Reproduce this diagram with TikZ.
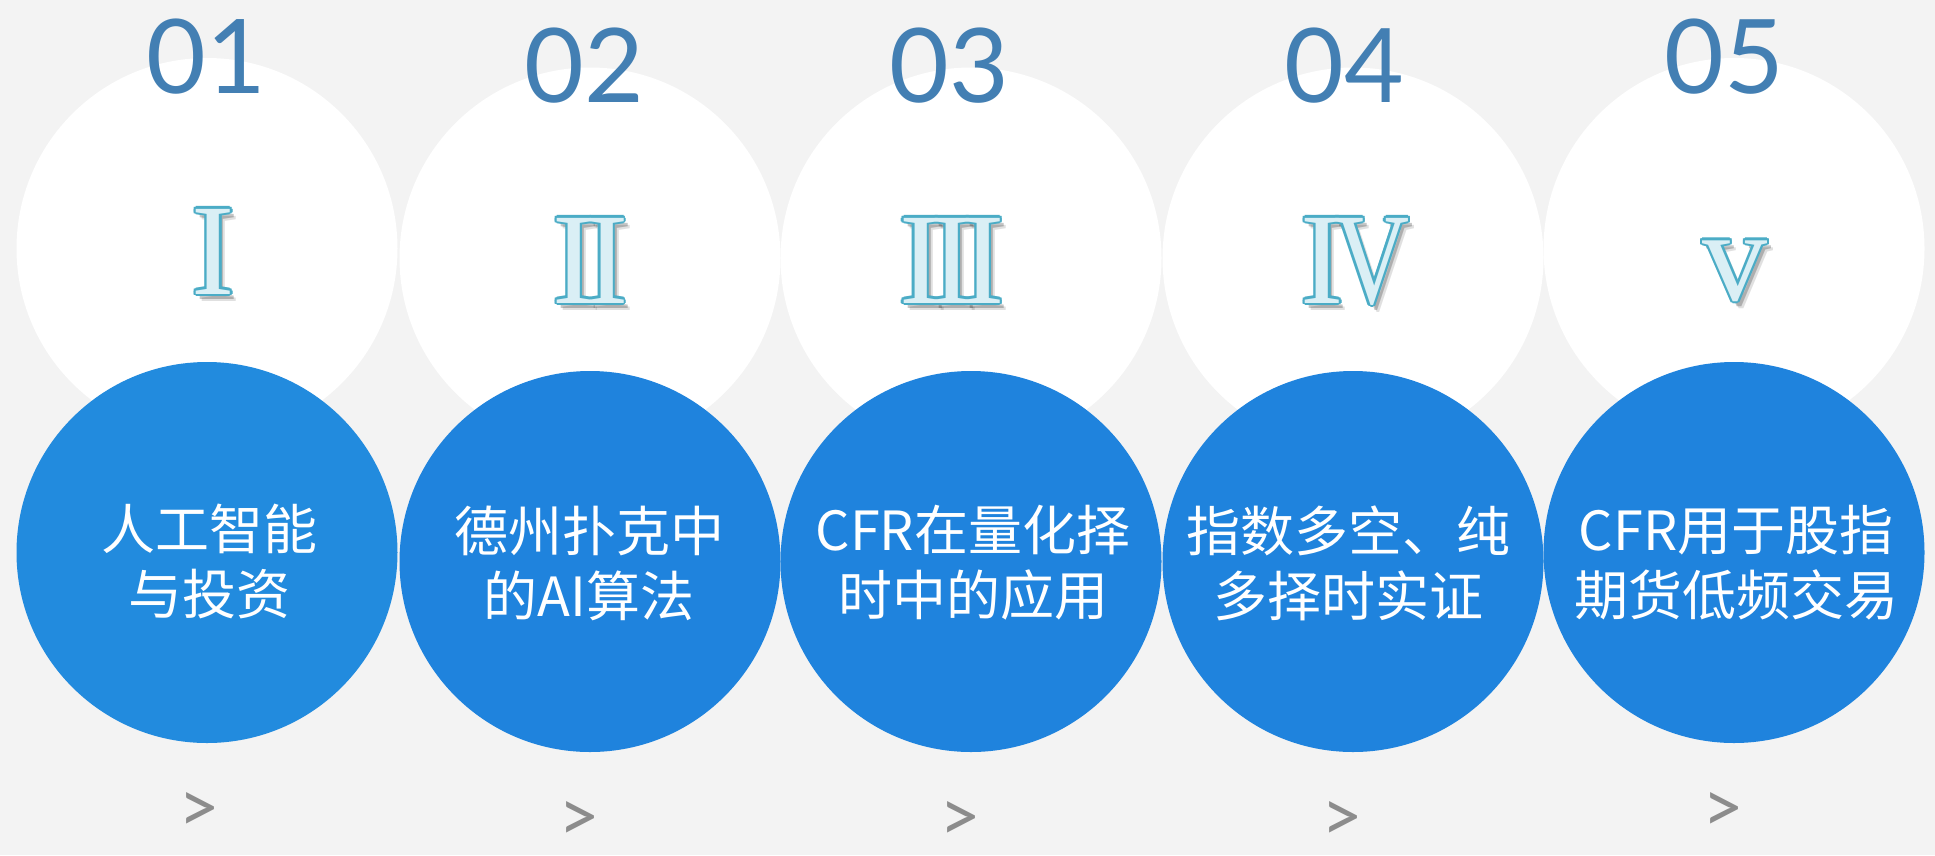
\documentclass[tikz,border=0pt]{standalone}
\usepackage{fontspec}
\usepackage{graphicx}
\usetikzlibrary{calc}
\newfontfamily\cjk{Noto Sans CJK SC}
\newfontfamily\numfont{Lato}
\newfontfamily\romanfont{Liberation Serif}
\definecolor{bg}{RGB}{243,243,243}
\definecolor{blueA}{RGB}{34,139,222}
\definecolor{blueB}{RGB}{31,131,221}
\definecolor{numblue}{RGB}{67,127,179}
\definecolor{romanedge}{RGB}{75,172,198}
\definecolor{romanfill}{RGB}{218,239,245}
\definecolor{arrowgray}{RGB}{140,140,140}
\tikzset{
  whitedisc/.style={circle, fill=white, inner sep=0pt, minimum size=381pt},
  bluedisc/.style={circle, fill=#1, inner sep=0pt, minimum size=381pt},
  numlabel/.style={anchor=base, inner sep=0pt, text=numblue, font=\numfont\fontsize{103}{103}\selectfont},
  topiclabel/.style={align=center, inner sep=0pt, text=white, font=\cjk\fontsize{54}{65}\selectfont},
  nextmark/.style={inner sep=0pt, text=arrowgray, font=\numfont\fontsize{72}{72}\selectfont},
  romanbase/.style={anchor=base, inner sep=0pt, font=\romanfont\fontsize{130}{130}\selectfont},
}
\newcommand\romannum[3]{%
  \node[romanbase, text=black, opacity=0.22] at ($#2+(4,5)$) {#3};
  \node[romanbase, text=black, opacity=0.12] at ($#2+(6,7)$) {#3};
  \foreach \a in {0,30,...,330} {\node[romanbase, text=romanedge] at ($#2+(\a:2.2)$) {#3};}
  \node[romanbase, text=romanfill] (#1) at #2 {#3};
}
\begin{document}
\begin{tikzpicture}[x=1pt,y=-1pt]
\useasboundingbox (0,0) rectangle (1935,855);
\fill[bg] (0,0) rectangle (1935,855);
% white discs
\node[whitedisc] (w1) at (207,248.5) {};
\node[whitedisc] (w2) at (590,258) {};
\node[whitedisc] (w3) at (971,258) {};
\node[whitedisc] (w4) at (1353,258) {};
\node[whitedisc] (w5) at (1734,248.5) {};
% blue discs
\node[bluedisc=blueA] (b1) at (207,552.5) {};
\node[bluedisc=blueB] (b2) at (590,561.5) {};
\node[bluedisc=blueB] (b3) at (971,561.5) {};
\node[bluedisc=blueB] (b4) at (1353,561.5) {};
\node[bluedisc=blueB] (b5) at (1734,552.5) {};
% numbers
\node[numlabel] (n1) at (206.5,93) {01};
\node[numlabel] (n2) at (584.5,102) {02};
\node[numlabel] (n3) at (949.5,102) {03};
\node[numlabel] (n4) at (1344,102) {04};
\node[numlabel] (n5) at (1724.5,93) {05};
% roman numerals
\romannum{r1}{(213.5,294)}{I}
\romannum{r2}{(590.5,303)}{I\kern-11pt I}
\romannum{r3}{(952,303)}{I\kern-12pt I\kern-12pt I}
\romannum{r4}{(1355,303)}{I\kern-10pt\scalebox{0.8}[1]{V}}
\romannum{r5}{(1735,300)}{v}
% topics
\node[topiclabel] (t1) at (209,561) {人工智能\\与投资};
\node[topiclabel] (t2) at (589,563) {德州扑克中\\的AI算法};
\node[topiclabel] (t3) at (973,563) {CFR在量化择\\时中的应用};
\node[topiclabel] (t4) at (1348,563) {指数多空、纯\\多择时实证};
\node[topiclabel] (t5) at (1736,563) {CFR用于股指\\期货低频交易};
% next marks
\node[nextmark] (m1) at (199,812) {>};
\node[nextmark] (m2) at (579,821) {>};
\node[nextmark] (m3) at (960,821) {>};
\node[nextmark] (m4) at (1342,821) {>};
\node[nextmark] (m5) at (1723,812) {>};
\end{tikzpicture}
\end{document}
